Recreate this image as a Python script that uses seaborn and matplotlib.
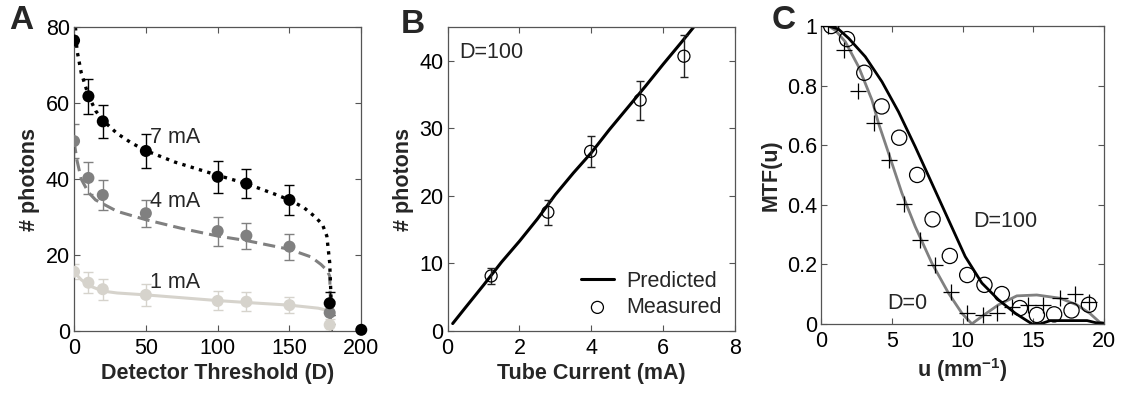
import numpy as np
import pandas as pd
import matplotlib
matplotlib.use("Agg")
import matplotlib.pyplot as plt
import seaborn as sns

# ---------------- Data ----------------
# Panel A: measured photons vs detector threshold
thr = [0, 10, 20, 50, 100, 120, 150, 178]
ph7 = [76.5, 61.8, 55.2, 47.4, 40.6, 38.8, 34.5, 7.3]
err7 = [0.0, 4.6, 4.4, 4.5, 4.2, 3.8, 4.0, 3.0]
ph4 = [50.0, 40.3, 35.8, 31.0, 26.3, 25.1, 22.2, 4.8]
err4 = [4.5, 4.2, 4.0, 3.5, 3.8, 3.4, 3.4, 3.0]
ph1 = [15.6, 12.7, 11.0, 9.5, 7.9, 7.7, 6.8, 1.6]
err1 = [2.0, 2.8, 2.8, 2.8, 2.5, 2.5, 2.2, 1.5]
extra_x = [200]
extra_y = [0.3]

# Panel A: model curves
c7_x = [1, 2, 5, 10, 15, 20, 30, 40, 50, 70, 100, 120, 140, 150, 160, 168, 173, 176, 178, 179, 179]
c7_y = [80, 74, 68, 62, 58, 55.5, 52, 49.5, 47.5, 44.5, 41, 38.8, 36, 34.5, 32.5, 30, 28, 25, 18, 8, 0]
c4_x = [0, 2, 5, 10, 15, 20, 30, 50, 75, 100, 120, 150, 165, 172, 176, 178, 178.5, 178.5]
c4_y = [50, 45, 40, 36.5, 34.5, 33.5, 31.5, 29.3, 27, 25, 23.8, 21.5, 19.5, 17.5, 16, 14.5, 8, 0]
c1_x = [0, 5, 10, 20, 30, 50, 100, 120, 150, 170, 178, 178.5]
c1_y = [15.5, 13.5, 12.0, 10.5, 10.0, 9.5, 8.0, 7.5, 6.8, 6.0, 5.3, 0]

# Panel B
cur_meas = [1.21, 2.79, 3.98, 5.36, 6.58]
ph_meas = [8.15, 17.6, 26.6, 34.2, 40.7]
ph_err = [1.15, 1.85, 2.35, 2.9, 3.1]
cur_pred = [0.14, 0.5, 1.0, 1.5, 2.0, 2.5, 3.0, 3.5, 4.0, 4.5, 5.0, 5.5, 6.0, 6.5, 6.85]
ph_pred = [1.1, 3.5, 6.8, 10.2, 13.3, 16.6, 20.2, 23.4, 26.4, 29.8, 33.0, 36.2, 39.5, 42.7, 45.0]

# Panel C
u_circ = [0.7, 1.82, 3.04, 4.27, 5.51, 6.78, 7.87, 9.09, 10.32, 11.54, 12.77, 14.05, 15.25, 16.47, 17.7, 18.93]
mtf_circ = [1.0, 0.956, 0.843, 0.73, 0.625, 0.50, 0.351, 0.228, 0.164, 0.131, 0.10, 0.053, 0.030, 0.032, 0.045, 0.064]
u_plus = [0.5, 1.63, 2.62, 3.75, 4.81, 5.87, 7.0, 8.06, 9.14, 10.3, 11.45, 12.42, 13.5, 14.65, 15.7, 16.88, 17.92, 18.93]
mtf_plus = [1.0, 0.919, 0.783, 0.673, 0.55, 0.403, 0.28, 0.198, 0.108, 0.036, 0.030, 0.036, 0.058, 0.062, 0.062, 0.086, 0.10, 0.075]
u_d100 = [0.52, 1.2, 1.93, 3.11, 4.29, 5.46, 6.64, 7.82, 9.0, 10.18, 11.36, 12.53, 13.71, 14.4, 14.9, 15.5, 16.2, 17.5, 18.8, 19.4, 20.0]
mtf_d100 = [1.0, 0.99, 0.959, 0.897, 0.813, 0.712, 0.595, 0.472, 0.349, 0.226, 0.137, 0.081, 0.036, 0.015, 0.0, 0.0, 0.011, 0.011, 0.011, 0.004, 0.002]
u_d0 = [0.52, 1.0, 1.7, 2.64, 3.58, 4.05, 4.76, 5.7, 6.64, 7.82, 9.0, 9.94, 10.65, 11.36, 12.53, 13.83, 15.24, 16.9, 18.07, 19.0, 19.7, 20.0]
mtf_d0 = [1.0, 0.985, 0.947, 0.863, 0.752, 0.673, 0.573, 0.439, 0.327, 0.204, 0.103, 0.036, 0.0, 0.025, 0.064, 0.094, 0.097, 0.086, 0.064, 0.035, 0.005, 0.002]

# ---------------- Style ----------------
sns.set_theme(style="ticks")
plt.rcParams['font.family'] = ['Liberation Sans', 'DejaVu Sans']
plt.rcParams.update({
    'xtick.direction': 'in', 'ytick.direction': 'in',
    'xtick.top': True, 'ytick.right': True,
    'xtick.major.size': 4, 'ytick.major.size': 4,
    'xtick.major.width': 0.8, 'ytick.major.width': 0.8,
    'axes.linewidth': 0.9, 'axes.edgecolor': '#555555',
    'xtick.color': '#555555', 'ytick.color': '#555555',
    'xtick.labelcolor': 'black', 'ytick.labelcolor': 'black',
    'xtick.labelsize': 15.5, 'ytick.labelsize': 15.5,
    'xtick.major.pad': 5, 'ytick.major.pad': 3,
    'mathtext.fontset': 'custom', 'mathtext.rm': 'Liberation Sans',
    'mathtext.bf': 'Liberation Sans:bold',
})

BLACK = '#000000'
GRAY = '#808080'
LIGHT = '#d6d3cc'

fig = plt.figure(figsize=(11.22, 3.94), dpi=100)
axA = fig.add_axes([0.066, 0.160, 0.256, 0.771])
axB = fig.add_axes([0.399, 0.160, 0.256, 0.771])
axC = fig.add_axes([0.732, 0.178, 0.252, 0.756])

label_kw = dict(fontsize=15.5, fontweight='bold')
ann = 15.5

# ---- Panel A ----
for cx, cy, col, ls, lw in [(c1_x, c1_y, LIGHT, '-', 2.2), (c4_x, c4_y, GRAY, (0, (4, 2)), 2.2), (c7_x, c7_y, BLACK, (0, (1, 1.6)), 2.4)]:
    sns.lineplot(x=cx, y=cy, ax=axA, color=col, linestyle=ls, linewidth=lw, sort=False, estimator=None)
for py, pe, col in [(ph1, err1, LIGHT), (ph4, err4, GRAY), (ph7, err7, BLACK)]:
    axA.errorbar(thr, py, yerr=pe, fmt='none', ecolor=col, elinewidth=1.0, capsize=3.5, capthick=1.0)
    sns.scatterplot(x=thr, y=py, ax=axA, color=col, s=75, edgecolor='none', zorder=5)
sns.scatterplot(x=extra_x, y=extra_y, ax=axA, color=BLACK, s=75, edgecolor='none', zorder=6, clip_on=False)
axA.set_xlim(0, 200)
axA.set_ylim(0, 80)
axA.set_xticks([0, 50, 100, 150, 200])
axA.set_yticks([0, 20, 40, 60, 80])
axA.set_xlabel('Detector Threshold (D)', labelpad=3, **label_kw)
axA.set_ylabel('# photons', **label_kw)
axA.text(53, 51, '7 mA', fontsize=ann, va='center', ha='left')
axA.text(53, 34, '4 mA', fontsize=ann, va='center', ha='left')
axA.text(53, 12.7, '1 mA', fontsize=ann, va='center', ha='left')

# ---- Panel B ----
sns.lineplot(x=cur_pred, y=ph_pred, ax=axB, color=BLACK, linewidth=2.2, sort=False, estimator=None, label='Predicted')
axB.errorbar(cur_meas, ph_meas, yerr=ph_err, fmt='none', ecolor='#222222', elinewidth=1.0, capsize=3, capthick=1.0)
sns.scatterplot(x=cur_meas, y=ph_meas, ax=axB, marker='o', s=75, facecolor='none', edgecolor=BLACK, linewidth=0.9, zorder=5, label='Measured')
axB.set_xlim(0, 8)
axB.set_ylim(0, 45)
axB.set_xticks([0, 2, 4, 6, 8])
axB.set_yticks([0, 10, 20, 30, 40])
axB.set_xlabel('Tube Current (mA)', labelpad=3, **label_kw)
axB.set_ylabel('# photons', **label_kw)
axB.text(0.33, 41.2, 'D=100', fontsize=ann, va='center', ha='left')
leg = axB.legend(loc='lower right', frameon=False, fontsize=ann, handlelength=1.5, handletextpad=0.6,
                 borderaxespad=0.2, labelspacing=0.25)

# ---- Panel C ----
sns.lineplot(x=u_d0, y=mtf_d0, ax=axC, color=GRAY, linewidth=2.0, sort=False, estimator=None)
sns.lineplot(x=u_d100, y=mtf_d100, ax=axC, color=BLACK, linewidth=2.0, sort=False, estimator=None)
sns.scatterplot(x=u_circ, y=mtf_circ, ax=axC, marker='o', s=120, facecolor='none', edgecolor=BLACK, linewidth=0.9, zorder=5)
sns.scatterplot(x=u_plus, y=mtf_plus, ax=axC, marker='+', s=120, color=BLACK, linewidth=0.9, zorder=5)
axC.set_xlim(0, 20)
axC.set_ylim(0, 1)
axC.set_xticks([0, 5, 10, 15, 20])
axC.set_yticks([0, 0.2, 0.4, 0.6, 0.8, 1.0])
axC.set_yticklabels(['0', '0.2', '0.4', '0.6', '0.8', '1'])
axC.set_xlabel('u (mm$^{\\mathbf{-1}}$)', labelpad=3, **label_kw)
axC.set_ylabel('MTF(u)', **label_kw)
axC.text(10.74, 0.342, 'D=100', fontsize=ann, va='center', ha='left')
axC.text(4.66, 0.07, 'D=0', fontsize=ann, va='center', ha='left')

for ax in (axA, axB, axC):
    for sp in ax.spines.values():
        sp.set_visible(True)

fig.text(0.008, 0.947, 'A', fontsize=24, fontweight='bold', va='center', ha='left')
fig.text(0.357, 0.939, 'B', fontsize=24, fontweight='bold', va='center', ha='left')
fig.text(0.688, 0.947, 'C', fontsize=24, fontweight='bold', va='center', ha='left')

fig.savefig('out.png', dpi=100)
